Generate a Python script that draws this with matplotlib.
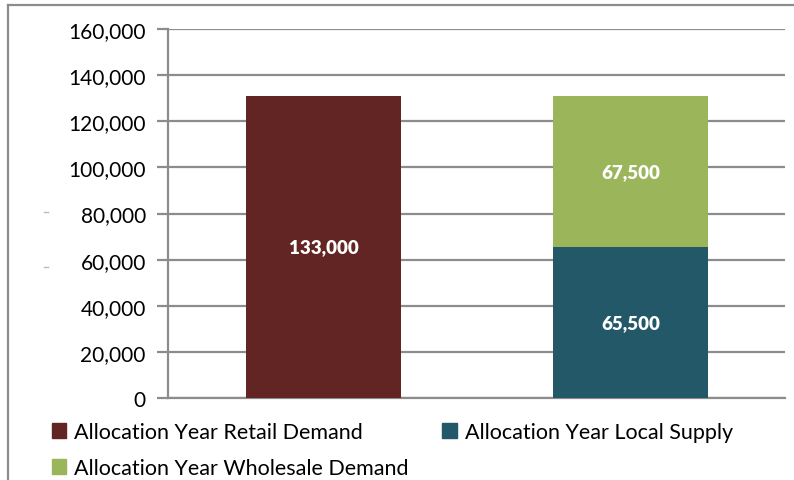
import matplotlib.pyplot as plt
import matplotlib.patches as mpatches
from matplotlib.lines import Line2D
from matplotlib.ticker import FuncFormatter

plt.rcParams['font.family'] = ['Lato', 'DejaVu Sans']

# data
positions = [0, 1]
retail_demand = [131000, 0]
local_supply = [0, 65500]
wholesale_demand = [0, 65500]
retail_labels = ['133,000']
local_labels = ['65,500']
wholesale_labels = ['67,500']

c_retail = '#632523'
c_local = '#235868'
c_whole = '#9BB65A'
grid_c = '#8C8C8C'

fig = plt.figure(figsize=(7.94, 4.81), dpi=100)
ax = fig.add_axes([0.2116, 0.1705, 0.7771, 0.7671])

w = 0.505
b1 = ax.bar(positions[0], retail_demand[0], width=w, color=c_retail, zorder=3)
b2 = ax.bar(positions[1], local_supply[1], width=w, color=c_local, zorder=3)
b3 = ax.bar(positions[1], wholesale_demand[1], bottom=local_supply[1], width=w,
            color=c_whole, zorder=3)

for bars, labs in [(b1, retail_labels), (b2, local_labels), (b3, wholesale_labels)]:
    ax.bar_label(bars, labels=labs, label_type='center', color='white',
                 fontweight='heavy', fontsize=13.5)

ax.set_xlim(-0.507, 1.503)
ax.set_ylim(0, 160000)
ax.set_yticks(range(0, 160001, 20000))
ax.yaxis.set_major_formatter(FuncFormatter(lambda v, p: f'{int(v):,}'))
ax.set_xticks([])

ax.grid(axis='y', color=grid_c, linewidth=1.6, zorder=0)
for s in ['top', 'right']:
    ax.spines[s].set_visible(False)
for s in ['left', 'bottom']:
    ax.spines[s].set_color(grid_c)
    ax.spines[s].set_linewidth(1.6)
ax.tick_params(axis='y', length=8, width=1.6, color=grid_c, labelsize=15,
               pad=8, labelcolor='black')

handles = [mpatches.Patch(color=c_retail, label='Allocation Year Retail Demand'),
           mpatches.Patch(color=c_whole, label='Allocation Year Wholesale Demand'),
           mpatches.Patch(color=c_local, label='Allocation Year Local Supply')]
fig.legend(handles=handles, ncol=2, loc='upper left', bbox_to_anchor=(0.065, 0.121),
           frameon=False, fontsize=15.5, handlelength=0.67, handleheight=0.67,
           handletextpad=0.38, columnspacing=1.55, labelspacing=0.75,
           borderaxespad=0, borderpad=0)

# outer frame of the chart area
fig.add_artist(Line2D([8 / 794, 8 / 794], [0, 1 - 6 / 481], color='#8C8C8C', lw=1.6))
fig.add_artist(Line2D([8 / 794, 1], [1 - 6 / 481, 1 - 6 / 481], color='#8C8C8C', lw=1.6))
# stray little marks left of the axis
fig.add_artist(Line2D([44 / 794, 48 / 794], [1 - 213 / 481] * 2, color='#BBBBBB', lw=1))
fig.add_artist(Line2D([44 / 794, 48 / 794], [1 - 268 / 481] * 2, color='#BBBBBB', lw=1))

fig.savefig('out.png', dpi=100)
